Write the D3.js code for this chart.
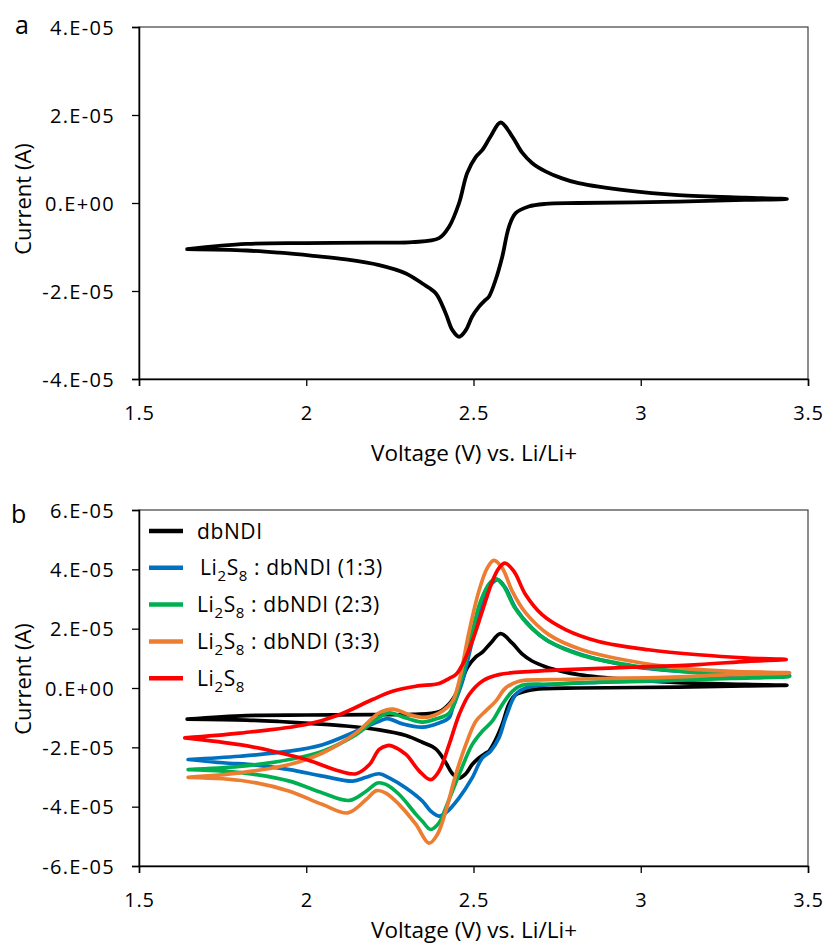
<!DOCTYPE html>
<html>
<head>
<meta charset="utf-8">
<script src="https://cdn.jsdelivr.net/npm/d3@7"></script>
<style>
  html, body { margin: 0; padding: 0; background: #fff; }
  svg { display: block; }
  text { font-family: "Open Sans", "DejaVu Sans", sans-serif; fill: #000; }
</style>
</head>
<body>
<svg id="fig" width="827" height="947"></svg>
<script>
// Cyclic voltammograms, current in units of 1e-5 A, voltage in V vs. Li/Li+.
// Each loop starts at the low-voltage vertex, runs the anodic sweep to the
// high-voltage vertex, then returns along the cathodic sweep.
const currentUnit = 1e-5;

const dbNDI = [
  [1.644,-1.05],[1.821,-0.93],[2.000,-0.91],[2.200,-0.90],[2.317,-0.89],[2.397,-0.80],
  [2.427,-0.54],[2.457,0.00],[2.481,0.68],[2.507,1.05],[2.526,1.20],[2.551,1.51],
  [2.581,1.83],[2.616,1.51],[2.645,1.15],[2.675,0.91],[2.715,0.72],[2.765,0.56],
  [2.814,0.45],[2.963,0.28],[3.113,0.18],[3.311,0.12],[3.437,0.09],
  [3.311,0.07],[3.113,0.03],[2.814,0.00],[2.715,-0.02],[2.665,-0.08],[2.626,-0.23],
  [2.606,-0.54],[2.586,-1.22],[2.566,-1.75],[2.546,-2.13],[2.536,-2.20],[2.516,-2.36],
  [2.496,-2.58],[2.477,-2.89],[2.457,-3.04],[2.437,-2.89],[2.417,-2.51],[2.387,-2.05],
  [2.347,-1.83],[2.298,-1.60],[2.218,-1.41],[2.119,-1.28],[2.020,-1.20],[1.920,-1.13],
  [1.821,-1.08],[1.644,-1.05]
];

const ratio13 = [
  [1.647,-2.41],[1.801,-2.30],[1.950,-2.13],[2.049,-1.91],[2.149,-1.46],[2.218,-1.12],
  [2.243,-1.03],[2.288,-1.21],[2.347,-1.32],[2.397,-1.18],[2.427,-1.00],[2.437,-0.70],
  [2.467,0.23],[2.496,1.57],[2.526,2.81],[2.556,3.54],[2.574,3.65],[2.596,3.37],
  [2.626,2.69],[2.675,2.02],[2.725,1.57],[2.824,1.12],[2.973,0.73],[3.122,0.56],
  [3.271,0.47],[3.445,0.42],
  [3.271,0.36],[3.073,0.25],[2.874,0.19],[2.725,0.11],[2.656,0.00],[2.626,-0.22],
  [2.596,-1.01],[2.576,-1.68],[2.551,-2.13],[2.526,-2.36],[2.496,-3.03],[2.457,-3.70],
  [2.417,-4.21],[2.397,-4.32],[2.372,-4.15],[2.347,-3.81],[2.298,-3.37],
  [2.248,-3.03],[2.218,-2.89],[2.179,-3.01],[2.139,-3.14],[2.049,-2.97],[1.950,-2.75],
  [1.851,-2.60],[1.751,-2.52],[1.647,-2.41]
];

const ratio23 = [
  [1.647,-2.75],[1.801,-2.64],[1.950,-2.41],[2.049,-2.13],[2.149,-1.57],[2.218,-0.99],
  [2.248,-0.84],[2.298,-1.01],[2.347,-1.15],[2.397,-1.01],[2.427,-0.85],[2.462,0.23],
  [2.492,1.68],[2.521,2.92],[2.551,3.57],[2.568,3.68],[2.591,3.42],[2.621,2.75],
  [2.675,2.00],[2.725,1.57],[2.824,1.10],[2.973,0.76],[3.122,0.56],[3.271,0.47],
  [3.445,0.39],
  [3.271,0.32],[3.073,0.25],[2.874,0.20],[2.725,0.13],[2.645,0.09],[2.616,-0.11],
  [2.586,-0.56],[2.556,-1.12],[2.526,-1.46],[2.496,-1.91],[2.457,-2.92],[2.417,-4.04],
  [2.397,-4.55],[2.372,-4.77],[2.347,-4.49],[2.328,-4.26],[2.278,-3.59],
  [2.238,-3.25],[2.213,-3.20],[2.179,-3.48],[2.129,-3.79],[2.049,-3.54],[1.950,-3.14],
  [1.851,-2.92],[1.751,-2.80],[1.647,-2.75]
];

const ratio33 = [
  [1.647,-3.01],[1.801,-2.86],[1.950,-2.58],[2.049,-2.19],[2.149,-1.52],[2.218,-0.84],
  [2.258,-0.71],[2.308,-0.90],[2.358,-0.99],[2.407,-0.78],[2.437,-0.45],[2.457,0.23],
  [2.487,1.91],[2.516,3.26],[2.541,4.04],[2.561,4.30],[2.586,4.04],[2.616,3.26],
  [2.656,2.53],[2.725,1.80],[2.824,1.29],[2.973,0.90],[3.122,0.67],[3.271,0.56],
  [3.445,0.51],
  [3.271,0.45],[3.073,0.36],[2.874,0.32],[2.725,0.28],[2.636,0.23],[2.596,0.00],
  [2.566,-0.45],[2.536,-0.78],[2.507,-1.12],[2.477,-1.91],[2.447,-2.92],[2.417,-4.15],
  [2.392,-4.94],[2.367,-5.23],[2.328,-4.60],[2.278,-3.93],[2.238,-3.54],
  [2.210,-3.46],[2.179,-3.76],[2.124,-4.21],[2.049,-3.93],[1.950,-3.48],[1.851,-3.20],
  [1.751,-3.06],[1.647,-3.01]
];

const li2s8 = [
  [1.637,-1.68],[1.801,-1.52],[2.000,-1.23],[2.099,-0.90],[2.198,-0.39],[2.258,-0.11],
  [2.328,0.06],[2.397,0.15],[2.427,0.32],[2.447,0.45],[2.467,0.79],[2.496,1.57],
  [2.526,2.58],[2.556,3.59],[2.576,4.04],[2.594,4.21],[2.621,3.93],[2.656,3.14],
  [2.705,2.47],[2.775,1.97],[2.874,1.57],[3.023,1.29],[3.172,1.12],[3.321,1.01],
  [3.435,0.96],
  [3.321,0.90],[3.172,0.79],[2.973,0.70],[2.775,0.62],[2.675,0.56],[2.576,0.45],
  [2.526,0.23],[2.487,-0.22],[2.457,-0.90],[2.427,-1.91],[2.397,-2.80],[2.372,-3.09],
  [2.338,-2.80],[2.298,-2.24],[2.258,-1.96],[2.243,-1.94],[2.218,-2.07],[2.189,-2.58],
  [2.149,-2.89],[2.099,-2.80],[2.000,-2.41],[1.900,-2.13],[1.801,-1.91],[1.637,-1.68]
];

const xTicks = [1.5, 2, 2.5, 3, 3.5];
const xTickLabels = ["1.5", "2", "2.5", "3", "3.5"];
const yTicksA = [-4, -2, 0, 2, 4];
const yTicksB = [-6, -4, -2, 0, 2, 4, 6];

const seriesB = [
  { name: "dbNDI",  data: dbNDI,   color: "#000000", label: ["dbNDI"] },
  { name: "1:3",    data: ratio13, color: "#0070C0", label: ["Li", "2", "S", "8", " : dbNDI (1:3)"] },
  { name: "2:3",    data: ratio23, color: "#00B050", label: ["Li", "2", "S", "8", " : dbNDI (2:3)"] },
  { name: "3:3",    data: ratio33, color: "#ED7D31", label: ["Li", "2", "S", "8", " : dbNDI (3:3)"] },
  { name: "Li2S8",  data: li2s8,   color: "#FF0000", label: ["Li", "2", "S", "8"] }
];

const svg = d3.select("#fig");
svg.append("rect").attr("width", 827).attr("height", 947).attr("fill", "#fff");

// Excel-style "0.E+00" labels from a value given in units of 1e-5 A
function sciLabel(k) {
  if (k === 0) return "0.E+00";
  return k + ".E-05";
}

function panel(opts) {
  const { top, bottom, left, right, yDomain, yTicks, letter, letterPos,
          xTitleY, yTitleCenter, series, strokeWidth } = opts;
  const x = d3.scaleLinear().domain([1.5, 3.5]).range([left, right]);
  const y = d3.scaleLinear().domain(yDomain.map(v => v * currentUnit)).range([bottom, top]);
  const g = svg.append("g");

  // plot-area frame
  g.append("rect")
    .attr("x", left).attr("y", top)
    .attr("width", right - left).attr("height", bottom - top)
    .attr("fill", "none").attr("stroke", "#404040").attr("stroke-width", 1.2);

  const yAxis = d3.axisLeft(y).tickValues(yTicks.map(v => v * currentUnit))
    .tickFormat(d => sciLabel(Math.round(d / currentUnit)))
    .tickSize(7).tickPadding(17);
  const gy = g.append("g").attr("transform", `translate(${left},0)`).call(yAxis);
  gy.select(".domain").attr("stroke", "#000").attr("stroke-width", 1.5);
  gy.selectAll(".tick line").attr("stroke", "#000").attr("stroke-width", 1.3);
  gy.selectAll(".tick text")
    .style("font-family", "'Open Sans', sans-serif")
    .style("font-size", "20px").style("letter-spacing", "1.3px")
    .attr("dy", "0.36em");

  const xAxis = d3.axisBottom(x).tickValues(xTicks)
    .tickFormat((d, i) => xTickLabels[i]).tickSize(7).tickPadding(20);
  const gx = g.append("g").attr("transform", `translate(0,${bottom})`).call(xAxis);
  gx.select(".domain").attr("stroke", "#000").attr("stroke-width", 1.5);
  gx.selectAll(".tick line").attr("stroke", "#000").attr("stroke-width", 1.3);
  gx.selectAll(".tick text")
    .style("font-family", "'Open Sans', sans-serif")
    .style("font-size", "20px").style("letter-spacing", "0.8px")
    .attr("dy", "0.71em");

  // axis titles
  g.append("text")
    .attr("x", 474).attr("y", xTitleY)
    .attr("text-anchor", "middle")
    .style("font-size", "22.5px")
    .text("Voltage (V) vs. Li/Li+");
  g.append("text")
    .attr("transform", `translate(31,${yTitleCenter}) rotate(-90)`)
    .attr("text-anchor", "middle")
    .style("font-size", "22px")
    .text("Current (A)");

  g.append("text")
    .attr("x", letterPos[0]).attr("y", letterPos[1])
    .style("font-size", "25px")
    .text(letter);

  const line = d3.line()
    .x(d => x(d[0]))
    .y(d => y(d[1] * currentUnit))
    .curve(d3.curveCatmullRom.alpha(0.5));

  const clipId = "clip-" + letter;
  g.append("clipPath").attr("id", clipId)
    .append("rect").attr("x", left).attr("y", top)
    .attr("width", right - left).attr("height", bottom - top);

  g.append("g").attr("clip-path", `url(#${clipId})`)
    .selectAll("path").data(series).join("path")
    .attr("d", s => line(s.data))
    .attr("fill", "none")
    .attr("stroke", s => s.color)
    .attr("stroke-width", strokeWidth)
    .attr("stroke-linejoin", "round")
    .attr("stroke-linecap", "round");

  return { g, x, y };
}

// Panel a: dbNDI alone
panel({
  top: 27, bottom: 379, left: 139, right: 808,
  yDomain: [-4, 4], yTicks: yTicksA,
  letter: "a", letterPos: [15, 34],
  xTitleY: 461, yTitleCenter: 199,
  series: [{ data: dbNDI, color: "#000000" }],
  strokeWidth: 3.8
});

// Panel b: dbNDI with increasing Li2S8 content
const pb = panel({
  top: 510, bottom: 866, left: 139, right: 808,
  yDomain: [-6, 6], yTicks: yTicksB,
  letter: "b", letterPos: [11, 523],
  xTitleY: 938, yTitleCenter: 679,
  series: seriesB,
  strokeWidth: 3.7
});

// legend for panel b
const legend = pb.g.append("g");
const legendTop = 531, legendStep = 36.8;
seriesB.forEach((s, i) => {
  const yy = legendTop + i * legendStep;
  legend.append("line")
    .attr("x1", 149).attr("x2", 183).attr("y1", yy).attr("y2", yy)
    .attr("stroke", s.color).attr("stroke-width", 4.5);
  const t = legend.append("text")
    .attr("x", i === 1 ? 200 : 197).attr("y", yy + 7.5)
    .style("font-size", "21px").style("letter-spacing", "0.6px");
  s.label.forEach((part, j) => {
    const isSub = s.label.length > 1 && (j === 1 || j === 3);
    const ts = t.append("tspan").text(part);
    if (isSub) ts.style("font-size", "15px").attr("dy", "6");
    else if (j > 0) ts.attr("dy", "-6");
  });
});
</script>
</body>
</html>
